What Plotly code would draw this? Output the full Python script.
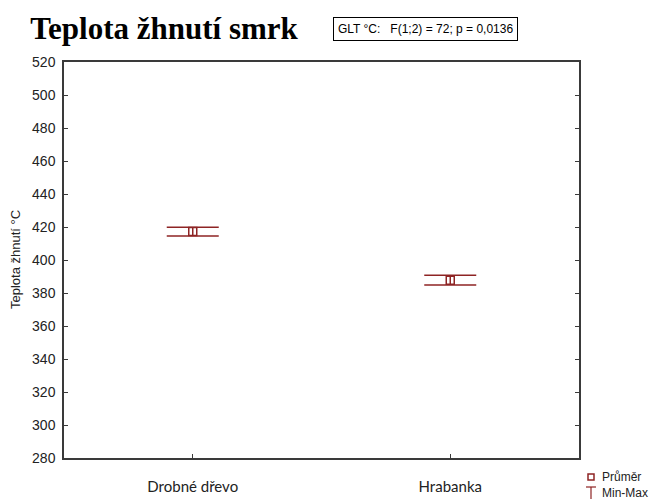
import plotly.graph_objects as go

categories = ["Drobné dřevo", "Hrabanka"]
mean_vals = [417.2, 387.7]
max_vals = [419.8, 390.7]
min_vals = [414.5, 384.8]
y_ticks = [280, 300, 320, 340, 360, 380, 400, 420, 440, 460, 480, 500, 520]

W, H = 655, 503
L, R, T, B = 64, 76, 62, 45
PW, PH = W - L - R, H - T - B

def px(x):
    return (x - L) / PW

def py(y):
    return (H - B - y) / PH

RED = "#8e2424"

fig = go.Figure()
fig.add_trace(go.Scatter(
    x=categories, y=mean_vals, mode="markers",
    marker=dict(symbol="square-open", size=8, color=RED, line=dict(width=1.5, color=RED)),
    error_y=dict(type="data", symmetric=False,
                 array=[mx - m for mx, m in zip(max_vals, mean_vals)],
                 arrayminus=[m - mn for mn, m in zip(min_vals, mean_vals)],
                 color=RED, thickness=1.5, width=26),
    showlegend=False, hoverinfo="skip",
))

fig.update_layout(
    width=W, height=H,
    margin=dict(l=L, r=R, t=T, b=B),
    paper_bgcolor="white", plot_bgcolor="white",
    title=dict(text="<b>Teplota žhnutí smrk</b>", x=164 / W, xanchor="center",
               y=1 - 28 / H, yanchor="middle",
               font=dict(family="Liberation Serif", size=31, color="black")),
    xaxis=dict(range=[-0.5, 1.5], showgrid=False, zeroline=False, automargin=False,
               showline=True, linecolor="#3a3a3a", linewidth=1.5, mirror=True,
               ticks="inside", ticklen=4, tickcolor="#3a3a3a",
               ticklabelstandoff=14,
               tickfont=dict(family="Lato", size=15, color="#222")),
    yaxis=dict(range=[280, 520], tickvals=y_ticks, showgrid=False, zeroline=False,
               automargin=False,
               showline=True, linecolor="#3a3a3a", linewidth=1.5, mirror="ticks",
               ticks="inside", ticklen=4, tickcolor="#3a3a3a",
               ticklabelstandoff=4,
               tickfont=dict(family="Liberation Sans", size=14, color="#222")),
    font=dict(family="Liberation Sans", color="#222"),
)

fig.add_annotation(x=px(15), y=0.5, xref="paper", yref="paper", text="Teplota žhnutí °C",
                   textangle=-90, showarrow=False, xanchor="center", yanchor="middle",
                   font=dict(family="Liberation Sans", size=13, color="#222"))

fig.add_annotation(x=px(425), y=py(28.5), xref="paper", yref="paper",
                   text="GLT °C:\u00a0\u00a0\u00a0F(1;2) = 72; p = 0,0136",
                   showarrow=False, xanchor="center", yanchor="middle",
                   bordercolor="black", borderwidth=1, borderpad=4, bgcolor="white",
                   font=dict(family="Liberation Sans", size=12, color="black"))

# legend
fig.add_shape(type="rect", xref="paper", yref="paper",
              x0=px(588), x1=px(594), y0=py(480), y1=py(474),
              line=dict(color=RED, width=1.5))
fig.add_shape(type="line", xref="paper", yref="paper",
              x0=px(586), x1=px(596), y0=py(487), y1=py(487),
              line=dict(color=RED, width=1.2))
fig.add_shape(type="line", xref="paper", yref="paper",
              x0=px(591), x1=px(591), y0=py(487), y1=py(499),
              line=dict(color=RED, width=1.2))
fig.add_annotation(x=px(600), y=py(477), xref="paper", yref="paper", text="Průměr",
                   showarrow=False, xanchor="left", yanchor="middle",
                   font=dict(family="Liberation Sans", size=12, color="#222"))
fig.add_annotation(x=px(600), y=py(493), xref="paper", yref="paper", text="Min-Max",
                   showarrow=False, xanchor="left", yanchor="middle",
                   font=dict(family="Liberation Sans", size=12, color="#222"))

fig.write_html("out.html", config={"displayModeBar": False},
               post_script="document.body.style.margin='0';document.body.style.overflow='hidden';")
